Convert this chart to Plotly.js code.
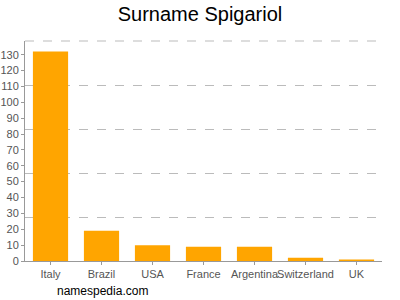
<!DOCTYPE html>
<html>
<head>
<meta charset="utf-8">
<script src="https://cdn.plot.ly/plotly-3.0.1.min.js"></script>
<style>html,body{margin:0;padding:0;background:#fff;}#chart{width:400px;height:300px;}</style>
</head>
<body>
<div id="chart"></div>
<script>
const countries = ["Italy", "Brazil", "USA", "France", "Argentina", "Switzerland", "UK"];
const counts = [132, 19, 10, 9, 9, 2, 1];
const yTicks = [0,10,20,30,40,50,60,70,80,90,100,110,120,130];

const yMax = Math.max(...counts) * 1.05;
const gridVals = [1,2,3,4].map(i => yMax * i / 5);

const data = [
  {type: 'bar', x: countries, y: counts, marker: {color: '#FFA500'}, hoverinfo: 'none'},
  {type: 'scatter', x: [countries[0]], y: [0], yaxis: 'y2', mode: 'markers', marker: {opacity: 0}, hoverinfo: 'none', showlegend: false}
];

const layout = {
  width: 400, height: 300,
  margin: {l: 25, r: 18, t: 41, b: 39},
  paper_bgcolor: '#fff', plot_bgcolor: '#fff',
  showlegend: false,
  bargap: 0.31,
  font: {family: 'Liberation Sans, Arial, sans-serif', color: '#555', size: 11},
  title: {text: 'Surname Spigariol', font: {size: 20, color: '#000', family: 'Liberation Sans, Arial, sans-serif'}, x: 0.5, xanchor: 'center', y: 0.953, yanchor: 'middle'},
  xaxis: {showline: true, linecolor: '#999', linewidth: 1, ticks: 'outside', ticklen: 3, tickcolor: '#999', showgrid: false, tickangle: 0, tickfont: {size: 11, color: '#555'}, ticklabelstandoff: 0},
  yaxis: {range: [0, yMax], tickvals: yTicks, ticks: 'outside', ticklen: 3, tickcolor: '#999', showline: true, linecolor: '#999', linewidth: 1, showgrid: false, zeroline: false, tickfont: {size: 11, color: '#555'}, ticklabelstandoff: 0},
  yaxis2: {overlaying: 'y', range: [0, yMax], tickvals: gridVals, showticklabels: false, ticks: '', showgrid: true, gridcolor: '#bbb', griddash: 'dash', gridwidth: 1, zeroline: false, showline: false},
  shapes: [{type: 'line', xref: 'paper', yref: 'paper', x0: 0, x1: 1, y0: 1, y1: 1, line: {color: '#bbb', width: 1, dash: 'dash'}, layer: 'below'}],
  annotations: [{text: 'namespedia.com', xref: 'paper', yref: 'paper', x: 0.084, y: -0.136, xanchor: 'left', yanchor: 'middle', showarrow: false, font: {size: 12, color: '#000'}}]
};

Plotly.newPlot('chart', data, layout, {displayModeBar: false, staticPlot: true});
</script>
</body>
</html>
